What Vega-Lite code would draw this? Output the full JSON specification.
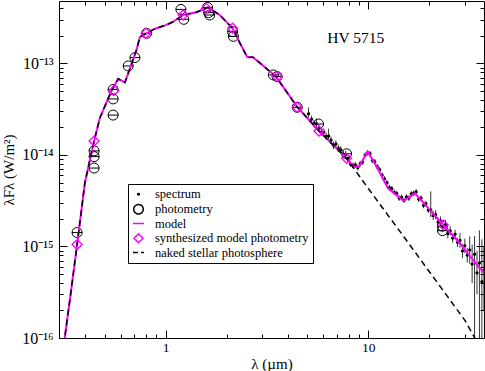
{
  "$schema": "https://vega.github.io/schema/vega-lite/v6.json",
  "width": 425,
  "height": 337,
  "autosize": "none",
  "padding": {"left": 59, "top": 1, "right": 1, "bottom": 33},
  "background": "white",
  "config": {
    "view": {"stroke": "black", "strokeWidth": 1},
    "font": "Liberation Serif",
    "axis": {"domain": false, "grid": false, "tickColor": "black", "tickWidth": 1, "labelColor": "black", "titleColor": "black", "labelFont": "Liberation Serif", "titleFont": "Liberation Serif", "titleFontWeight": "normal", "labelFlush": false, "labelOverlap": false},
    "legend": {"orient": "none", "legendX": 69, "legendY": 183, "strokeColor": "black", "fillColor": "white", "padding": 4, "rowPadding": 0, "labelFont": "Liberation Serif", "labelFontSize": 12.5, "labelColor": "black", "labelOffset": 10, "symbolStrokeWidth": 1.5, "title": null}
  },
  "datasets": {
    "spectrum": [
      {"lam": 5.07, "f": 2.82e-14, "lo": 2.57e-14, "hi": 3.31e-14},
      {"lam": 5.248, "f": 2.455e-14, "lo": 2.24e-14, "hi": 2.69e-14},
      {"lam": 5.395, "f": 2.19e-14, "lo": 2.0e-14, "hi": 2.4e-14},
      {"lam": 5.546, "f": 2.2e-14, "lo": 1.95e-14, "hi": 2.5e-14},
      {"lam": 5.702, "f": 1.96e-14, "lo": 1.79e-14, "hi": 2.15e-14},
      {"lam": 5.861, "f": 1.77e-14, "lo": 1.61e-14, "hi": 1.94e-14},
      {"lam": 6.026, "f": 1.78e-14, "lo": 1.63e-14, "hi": 1.95e-14},
      {"lam": 6.194, "f": 1.6e-14, "lo": 1.46e-14, "hi": 1.76e-14},
      {"lam": 6.368, "f": 1.61e-14, "lo": 1.47e-14, "hi": 1.94e-14},
      {"lam": 6.546, "f": 1.45e-14, "lo": 1.32e-14, "hi": 1.59e-14},
      {"lam": 6.73, "f": 1.276e-14, "lo": 1.16e-14, "hi": 1.4e-14},
      {"lam": 6.918, "f": 1.318e-14, "lo": 1.2e-14, "hi": 1.445e-14},
      {"lam": 7.112, "f": 1.183e-14, "lo": 1.079e-14, "hi": 1.297e-14},
      {"lam": 7.311, "f": 1.14e-14, "lo": 1.04e-14, "hi": 1.25e-14},
      {"lam": 7.516, "f": 1.026e-14, "lo": 9.35e-15, "hi": 1.125e-14},
      {"lam": 7.727, "f": 1.012e-14, "lo": 9.2e-15, "hi": 1.11e-14},
      {"lam": 7.943, "f": 9.2e-15, "lo": 8.59e-15, "hi": 9.86e-15},
      {"lam": 8.166, "f": 7.94e-15, "lo": 7.41e-15, "hi": 8.51e-15},
      {"lam": 8.395, "f": 7.71e-15, "lo": 7.19e-15, "hi": 8.26e-15},
      {"lam": 8.63, "f": 7.8e-15, "lo": 7.28e-15, "hi": 8.36e-15},
      {"lam": 8.872, "f": 7.28e-15, "lo": 6.79e-15, "hi": 7.8e-15},
      {"lam": 9.12, "f": 8.05e-15, "lo": 7.52e-15, "hi": 8.63e-15},
      {"lam": 9.376, "f": 8.36e-15, "lo": 7.8e-15, "hi": 8.95e-15},
      {"lam": 9.638, "f": 9.95e-15, "lo": 9.29e-15, "hi": 1.066e-14},
      {"lam": 9.908, "f": 1.057e-14, "lo": 9.86e-15, "hi": 1.132e-14},
      {"lam": 10.19, "f": 1.033e-14, "lo": 9.64e-15, "hi": 1.107e-14},
      {"lam": 10.47, "f": 8.71e-15, "lo": 8.13e-15, "hi": 9.33e-15},
      {"lam": 10.76, "f": 8.43e-15, "lo": 7.87e-15, "hi": 9.04e-15},
      {"lam": 11.07, "f": 7.43e-15, "lo": 6.93e-15, "hi": 7.96e-15},
      {"lam": 11.38, "f": 6.92e-15, "lo": 6.46e-15, "hi": 7.41e-15},
      {"lam": 11.7, "f": 6.01e-15, "lo": 5.61e-15, "hi": 6.44e-15},
      {"lam": 12.02, "f": 5.47e-15, "lo": 5.11e-15, "hi": 5.86e-15},
      {"lam": 12.36, "f": 4.98e-15, "lo": 4.65e-15, "hi": 5.33e-15},
      {"lam": 12.71, "f": 4.4e-15, "lo": 4.1e-15, "hi": 4.71e-15},
      {"lam": 13.06, "f": 4.29e-15, "lo": 4.0e-15, "hi": 4.59e-15},
      {"lam": 13.43, "f": 3.9e-15, "lo": 3.64e-15, "hi": 4.18e-15},
      {"lam": 13.8, "f": 3.79e-15, "lo": 3.54e-15, "hi": 4.06e-15},
      {"lam": 14.19, "f": 3.37e-15, "lo": 3.15e-15, "hi": 3.61e-15},
      {"lam": 14.59, "f": 3.44e-15, "lo": 3.21e-15, "hi": 3.69e-15},
      {"lam": 15.0, "f": 3.19e-15, "lo": 2.98e-15, "hi": 3.42e-15},
      {"lam": 15.42, "f": 3.48e-15, "lo": 3.24e-15, "hi": 3.72e-15},
      {"lam": 15.85, "f": 3.37e-15, "lo": 3.15e-15, "hi": 3.61e-15},
      {"lam": 16.29, "f": 3.76e-15, "lo": 3.51e-15, "hi": 4.03e-15},
      {"lam": 16.75, "f": 3.82e-15, "lo": 3.56e-15, "hi": 4.09e-15},
      {"lam": 17.22, "f": 3.95e-15, "lo": 3.69e-15, "hi": 4.24e-15},
      {"lam": 17.7, "f": 3.29e-15, "lo": 3.07e-15, "hi": 3.52e-15},
      {"lam": 18.2, "f": 3.37e-15, "lo": 3.14e-15, "hi": 3.61e-15},
      {"lam": 18.71, "f": 2.81e-15, "lo": 2.62e-15, "hi": 3.01e-15},
      {"lam": 19.23, "f": 2.94e-15, "lo": 2.74e-15, "hi": 3.15e-15},
      {"lam": 19.77, "f": 2.5e-15, "lo": 2.33e-15, "hi": 2.68e-15},
      {"lam": 20.32, "f": 2.5e-15, "lo": 2.1e-15, "hi": 4.0e-15},
      {"lam": 20.89, "f": 2.18e-15, "lo": 1.94e-15, "hi": 2.44e-15},
      {"lam": 21.48, "f": 2.23e-15, "lo": 1.99e-15, "hi": 2.5e-15},
      {"lam": 22.08, "f": 1.85e-15, "lo": 1.65e-15, "hi": 2.08e-15},
      {"lam": 22.7, "f": 1.9e-15, "lo": 1.69e-15, "hi": 2.13e-15},
      {"lam": 23.33, "f": 1.65e-15, "lo": 1.47e-15, "hi": 1.85e-15},
      {"lam": 23.99, "f": 1.73e-15, "lo": 1.54e-15, "hi": 1.95e-15},
      {"lam": 24.66, "f": 1.38e-15, "lo": 1.23e-15, "hi": 1.55e-15},
      {"lam": 25.35, "f": 1.48e-15, "lo": 1.32e-15, "hi": 1.66e-15},
      {"lam": 26.06, "f": 1.236e-15, "lo": 1.1e-15, "hi": 1.39e-15},
      {"lam": 26.79, "f": 1.36e-15, "lo": 1.21e-15, "hi": 1.52e-15},
      {"lam": 27.54, "f": 1.107e-15, "lo": 9.86e-16, "hi": 1.24e-15},
      {"lam": 28.31, "f": 1.16e-15, "lo": 9.66e-16, "hi": 1.4e-15},
      {"lam": 29.11, "f": 8.93e-16, "lo": 7.43e-16, "hi": 1.07e-15},
      {"lam": 29.92, "f": 1.019e-15, "lo": 8.47e-16, "hi": 1.22e-15},
      {"lam": 30.76, "f": 8.04e-16, "lo": 6.68e-16, "hi": 9.66e-16},
      {"lam": 31.62, "f": 9.16e-16, "lo": 6.49e-16, "hi": 1.29e-15},
      {"lam": 32.51, "f": 6.43e-16, "lo": 3.98e-16, "hi": 1.05e-15},
      {"lam": 33.42, "f": 8.22e-16, "lo": 1e-17, "hi": 1.3e-15},
      {"lam": 34.36, "f": 5.15e-16, "lo": 3.0e-16, "hi": 9.0e-16},
      {"lam": 35.32, "f": 6.59e-16, "lo": 1e-17, "hi": 1.5e-15},
      {"lam": 36.31, "f": 4.12e-16, "lo": 1e-17, "hi": 1.2e-15},
      {"lam": 37.15, "f": 5.47e-16, "lo": 2.0e-16, "hi": 1.0e-15}
    ],
    "photometry": [
      {"lam": 0.366, "f": 1.42e-15},
      {"lam": 0.444, "f": 1.11e-14},
      {"lam": 0.444, "f": 9.6e-15},
      {"lam": 0.444, "f": 7.2e-15},
      {"lam": 0.551, "f": 5.2e-14},
      {"lam": 0.551, "f": 4.1e-14},
      {"lam": 0.551, "f": 2.73e-14},
      {"lam": 0.654, "f": 9.4e-14},
      {"lam": 0.706, "f": 1.16e-13},
      {"lam": 0.806, "f": 2.14e-13},
      {"lam": 1.19, "f": 3.9e-13},
      {"lam": 1.23, "f": 3.04e-13},
      {"lam": 1.61, "f": 4.1e-13},
      {"lam": 1.63, "f": 3.6e-13},
      {"lam": 1.65, "f": 3.39e-13},
      {"lam": 2.14, "f": 2.23e-13},
      {"lam": 2.16, "f": 1.98e-13},
      {"lam": 3.4, "f": 7.5e-14},
      {"lam": 3.55, "f": 7.2e-14},
      {"lam": 4.46, "f": 3.32e-14},
      {"lam": 5.68, "f": 2.18e-14},
      {"lam": 7.81, "f": 1.03e-14},
      {"lam": 23.2, "f": 1.67e-15},
      {"lam": 23.2, "f": 1.49e-15}
    ],
    "model": [
      {"lam": 0.312, "f": 6.5e-17},
      {"lam": 0.318, "f": 1.0e-16},
      {"lam": 0.34, "f": 3.0e-16},
      {"lam": 0.366, "f": 1.05e-15},
      {"lam": 0.4, "f": 5.0e-15},
      {"lam": 0.444, "f": 1.42e-14},
      {"lam": 0.474, "f": 2.54e-14},
      {"lam": 0.542, "f": 5.1e-14},
      {"lam": 0.584, "f": 6.8e-14},
      {"lam": 0.63, "f": 6.2e-14},
      {"lam": 0.719, "f": 1.41e-13},
      {"lam": 0.747, "f": 1.95e-13},
      {"lam": 0.806, "f": 2.14e-13},
      {"lam": 0.886, "f": 2.4e-13},
      {"lam": 1.01, "f": 2.64e-13},
      {"lam": 1.09, "f": 2.86e-13},
      {"lam": 1.22, "f": 3.39e-13},
      {"lam": 1.42, "f": 3.63e-13},
      {"lam": 1.62, "f": 4.1e-13},
      {"lam": 1.85, "f": 3.39e-13},
      {"lam": 2.14, "f": 2.43e-13},
      {"lam": 2.33, "f": 1.66e-13},
      {"lam": 2.53, "f": 1.17e-13},
      {"lam": 2.7, "f": 1.17e-13},
      {"lam": 3.5, "f": 7.2e-14},
      {"lam": 4.46, "f": 3.35e-14},
      {"lam": 5.71, "f": 1.83e-14},
      {"lam": 7.81, "f": 9.2e-15},
      {"lam": 8.43, "f": 7.45e-15},
      {"lam": 8.99, "f": 7.45e-15},
      {"lam": 9.92, "f": 1.09e-14},
      {"lam": 11.0, "f": 7.45e-15},
      {"lam": 12.5, "f": 4.33e-15},
      {"lam": 14.9, "f": 3.16e-15},
      {"lam": 17.0, "f": 3.81e-15},
      {"lam": 20.1, "f": 2.51e-15},
      {"lam": 23.4, "f": 1.72e-15},
      {"lam": 28.3, "f": 1.08e-15},
      {"lam": 35.5, "f": 5.78e-16},
      {"lam": 38.0, "f": 4.9e-16}
    ],
    "phot": [
      {"lam": 0.312, "f": 6.5e-17},
      {"lam": 0.318, "f": 1.0e-16},
      {"lam": 0.34, "f": 3.0e-16},
      {"lam": 0.366, "f": 1.05e-15},
      {"lam": 0.4, "f": 5.0e-15},
      {"lam": 0.444, "f": 1.42e-14},
      {"lam": 0.474, "f": 2.54e-14},
      {"lam": 0.542, "f": 5.1e-14},
      {"lam": 0.584, "f": 6.8e-14},
      {"lam": 0.63, "f": 6.2e-14},
      {"lam": 0.719, "f": 1.41e-13},
      {"lam": 0.747, "f": 1.95e-13},
      {"lam": 0.806, "f": 2.14e-13},
      {"lam": 0.886, "f": 2.4e-13},
      {"lam": 1.01, "f": 2.64e-13},
      {"lam": 1.09, "f": 2.86e-13},
      {"lam": 1.22, "f": 3.39e-13},
      {"lam": 1.42, "f": 3.63e-13},
      {"lam": 1.62, "f": 4.1e-13},
      {"lam": 1.85, "f": 3.39e-13},
      {"lam": 2.14, "f": 2.43e-13},
      {"lam": 2.33, "f": 1.66e-13},
      {"lam": 2.53, "f": 1.17e-13},
      {"lam": 2.7, "f": 1.17e-13},
      {"lam": 3.5, "f": 7.2e-14},
      {"lam": 4.46, "f": 3.35e-14},
      {"lam": 5.71, "f": 1.83e-14},
      {"lam": 7.81, "f": 9.2e-15},
      {"lam": 10.0, "f": 4.3e-15},
      {"lam": 15.0, "f": 1.27e-15},
      {"lam": 20.0, "f": 5.3e-16},
      {"lam": 25.0, "f": 2.7e-16},
      {"lam": 30.0, "f": 1.55e-16},
      {"lam": 33.5, "f": 1.0e-16},
      {"lam": 36.0, "f": 8.0e-17}
    ],
    "synth": [
      {"lam": 0.366, "f": 1.05e-15},
      {"lam": 0.444, "f": 1.42e-14},
      {"lam": 0.556, "f": 5.05e-14},
      {"lam": 0.8, "f": 2.14e-13},
      {"lam": 1.22, "f": 3.39e-13},
      {"lam": 1.59, "f": 4.0e-13},
      {"lam": 2.14, "f": 2.43e-13},
      {"lam": 3.55, "f": 7.18e-14},
      {"lam": 4.46, "f": 3.32e-14},
      {"lam": 5.71, "f": 1.83e-14},
      {"lam": 7.81, "f": 9.2e-15},
      {"lam": 23.4, "f": 1.72e-15}
    ]
  },
  "layer": [
    {
      "data": {"name": "spectrum"},
      "mark": {"type": "rule", "color": "black", "strokeWidth": 0.8, "clip": true},
      "encoding": {
        "x": {"field": "lam", "type": "quantitative", "scale": {"type": "log", "domain": [0.298, 37.2], "nice": false},
          "axis": {"orient": "bottom", "values": [1, 10], "tickSize": -8, "labelPadding": 10, "labelFontSize": 13.5, "labelExpr": "datum.value < 5 ? '1' : '10'", "title": "λ (µm)", "titleFontSize": 15, "titlePadding": 3}},
        "y": {"field": "lo", "type": "quantitative", "scale": {"type": "log", "domain": [1e-16, 4.82e-13], "nice": false},
          "axis": {"orient": "left", "values": [1e-16, 1e-15, 1e-14, 1e-13], "tickSize": -8, "labelPadding": 14, "labelFontSize": 16, "labelExpr": "datum.value < 5e-16 ? '10⁻¹⁶' : datum.value < 5e-15 ? '10⁻¹⁵' : datum.value < 5e-14 ? '10⁻¹⁴' : '10⁻¹³'", "title": "λFλ (W/m²)", "titleFontSize": 15, "titlePadding": 5}},
        "y2": {"field": "hi"}
      }
    },
    {
      "data": {"name": "spectrum"},
      "mark": {"type": "point", "filled": false, "strokeWidth": 1.5, "opacity": 1, "clip": true},
      "encoding": {
        "x": {"field": "lam", "type": "quantitative", "scale": {"type": "log", "domain": [0.298, 37.2], "nice": false},
          "axis": {"orient": "bottom", "values": [0.4, 0.5, 0.6, 0.7, 0.8, 0.9, 2, 3, 4, 5, 6, 7, 8, 9, 20, 30], "tickSize": -4, "labels": false, "title": null}},
        "y": {"field": "f", "type": "quantitative", "scale": {"type": "log", "domain": [1e-16, 4.82e-13], "nice": false},
          "axis": {"orient": "left", "values": [2e-16, 3e-16, 4e-16, 5e-16, 6e-16, 7e-16, 8e-16, 9e-16, 2e-15, 3e-15, 4e-15, 5e-15, 6e-15, 7e-15, 8e-15, 9e-15, 2e-14, 3e-14, 4e-14, 5e-14, 6e-14, 7e-14, 8e-14, 9e-14, 2e-13, 3e-13, 4e-13], "tickSize": -4, "labels": false, "title": null}},
        "color": {"datum": "spectrum", "type": "nominal", "scale": {"domain": ["spectrum", "photometry", "model", "synthesized model photometry", "naked stellar photosphere"], "range": ["black", "black", "#ff00ff", "#ff00ff", "black"]}},
        "shape": {"datum": "spectrum", "type": "nominal", "scale": {"domain": ["spectrum", "photometry", "model", "synthesized model photometry", "naked stellar photosphere"], "range": ["circle", "circle", "stroke", "diamond", "stroke"]}},
        "size": {"datum": "spectrum", "type": "nominal", "scale": {"type": "ordinal", "domain": ["spectrum", "photometry", "model", "synthesized model photometry", "naked stellar photosphere"], "range": [3, 90, 121, 80, 121]}},
        "strokeDash": {"datum": "spectrum", "type": "nominal", "scale": {"domain": ["spectrum", "photometry", "model", "synthesized model photometry", "naked stellar photosphere"], "range": [[1, 0], [1, 0], [1, 0], [1, 0], [5, 3]]}}
      }
    },
    {
      "data": {"name": "photometry"},
      "mark": {"type": "point", "shape": "stroke", "size": 110, "color": "black", "strokeWidth": 1, "opacity": 1},
      "encoding": {
        "x": {"field": "lam", "type": "quantitative", "scale": {"type": "log", "domain": [0.298, 37.2], "nice": false},
          "axis": {"orient": "top", "values": [1, 10], "tickSize": -8, "labels": false, "title": null}},
        "y": {"field": "f", "type": "quantitative", "scale": {"type": "log", "domain": [1e-16, 4.82e-13], "nice": false},
          "axis": {"orient": "right", "values": [1e-16, 1e-15, 1e-14, 1e-13], "tickSize": -8, "labels": false, "title": null}}
      }
    },
    {
      "data": {"name": "photometry"},
      "mark": {"type": "point", "shape": "circle", "size": 100, "filled": false, "color": "black", "strokeWidth": 1, "opacity": 1},
      "encoding": {
        "x": {"field": "lam", "type": "quantitative", "scale": {"type": "log", "domain": [0.298, 37.2], "nice": false},
          "axis": {"orient": "top", "values": [0.4, 0.5, 0.6, 0.7, 0.8, 0.9, 2, 3, 4, 5, 6, 7, 8, 9, 20, 30], "tickSize": -4, "labels": false, "title": null}},
        "y": {"field": "f", "type": "quantitative", "scale": {"type": "log", "domain": [1e-16, 4.82e-13], "nice": false},
          "axis": {"orient": "right", "values": [2e-16, 3e-16, 4e-16, 5e-16, 6e-16, 7e-16, 8e-16, 9e-16, 2e-15, 3e-15, 4e-15, 5e-15, 6e-15, 7e-15, 8e-15, 9e-15, 2e-14, 3e-14, 4e-14, 5e-14, 6e-14, 7e-14, 8e-14, 9e-14, 2e-13, 3e-13, 4e-13], "tickSize": -4, "labels": false, "title": null}}
      }
    },
    {
      "data": {"name": "model"},
      "mark": {"type": "line", "strokeWidth": 2, "color": "#ff00ff", "clip": true},
      "encoding": {
        "x": {"field": "lam", "type": "quantitative", "scale": {"type": "log", "domain": [0.298, 37.2], "nice": false}, "axis": null},
        "y": {"field": "f", "type": "quantitative", "scale": {"type": "log", "domain": [1e-16, 4.82e-13], "nice": false}, "axis": null},
        "order": {"field": "lam", "type": "quantitative"}
      }
    },
    {
      "data": {"name": "phot"},
      "mark": {"type": "line", "strokeWidth": 1.5, "color": "black", "strokeDash": [6, 4], "clip": true},
      "encoding": {
        "x": {"field": "lam", "type": "quantitative", "scale": {"type": "log", "domain": [0.298, 37.2], "nice": false}, "axis": null},
        "y": {"field": "f", "type": "quantitative", "scale": {"type": "log", "domain": [1e-16, 4.82e-13], "nice": false}, "axis": null},
        "order": {"field": "lam", "type": "quantitative"}
      }
    },
    {
      "data": {"name": "synth"},
      "mark": {"type": "point", "shape": "diamond", "size": 100, "filled": false, "color": "#ff00ff", "strokeWidth": 1.3, "opacity": 1},
      "encoding": {
        "x": {"field": "lam", "type": "quantitative", "scale": {"type": "log", "domain": [0.298, 37.2], "nice": false}, "axis": null},
        "y": {"field": "f", "type": "quantitative", "scale": {"type": "log", "domain": [1e-16, 4.82e-13], "nice": false}, "axis": null}
      }
    },
    {
      "data": {"values": [{"label": "HV 5715"}]},
      "mark": {"type": "text", "font": "Liberation Serif", "fontSize": 15.5, "color": "black", "align": "center", "baseline": "alphabetic"},
      "encoding": {
        "x": {"datum": 8.67, "type": "quantitative", "scale": {"type": "log", "domain": [0.298, 37.2], "nice": false}, "axis": null},
        "y": {"datum": 1.66e-13, "type": "quantitative", "scale": {"type": "log", "domain": [1e-16, 4.82e-13], "nice": false}, "axis": null},
        "text": {"field": "label"}
      }
    }
  ],
  "resolve": {"axis": {"x": "independent", "y": "independent"}}
}
